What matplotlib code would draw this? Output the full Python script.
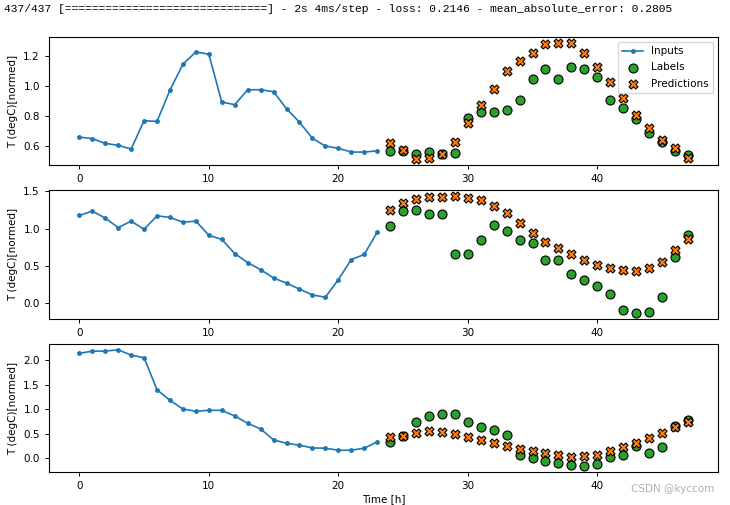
import matplotlib.pyplot as plt
import numpy as np

input_idx = np.arange(0, 24)
label_idx = np.arange(24, 48)

inputs_1 = [0.66, 0.65, 0.618, 0.605, 0.58, 0.77, 0.765, 0.975, 1.148, 1.23, 1.215, 0.895,
            0.877, 0.977, 0.977, 0.964, 0.85, 0.76, 0.652, 0.60, 0.585, 0.56, 0.56, 0.568]
labels_1 = [0.564, 0.567, 0.546, 0.56, 0.546, 0.555, 0.787, 0.829, 0.829, 0.84, 0.91, 1.05,
            1.117, 1.05, 1.13, 1.117, 1.063, 0.91, 0.854, 0.78, 0.685, 0.629, 0.566, 0.541]
preds_1 = [0.618, 0.573, 0.512, 0.519, 0.546, 0.629, 0.753, 0.878, 0.982, 1.103, 1.17, 1.225,
           1.285, 1.292, 1.292, 1.225, 1.126, 1.03, 0.924, 0.81, 0.72, 0.64, 0.586, 0.523]

inputs_2 = [1.175, 1.234, 1.14, 1.013, 1.099, 0.99, 1.17, 1.149, 1.085, 1.099, 0.91, 0.855,
            0.666, 0.545, 0.45, 0.338, 0.27, 0.189, 0.112, 0.081, 0.315, 0.585, 0.653, 0.95]
labels_2 = [1.031, 1.234, 1.247, 1.2, 1.189, 0.653, 0.666, 0.842, 1.045, 0.964, 0.842, 0.81,
            0.585, 0.585, 0.392, 0.311, 0.234, 0.126, -0.09, -0.127, -0.118, 0.085, 0.621, 0.919]
preds_2 = [1.252, 1.342, 1.396, 1.423, 1.423, 1.432, 1.405, 1.382, 1.301, 1.211, 1.076, 0.941,
           0.819, 0.738, 0.653, 0.585, 0.518, 0.477, 0.446, 0.432, 0.468, 0.558, 0.716, 0.855]

inputs_3 = [2.143, 2.19, 2.19, 2.216, 2.108, 2.053, 1.4, 1.183, 1.006, 0.959, 0.979, 0.979,
            0.863, 0.714, 0.598, 0.373, 0.306, 0.265, 0.21, 0.204, 0.163, 0.163, 0.204, 0.333]
labels_3 = [0.327, 0.455, 0.741, 0.863, 0.898, 0.898, 0.741, 0.639, 0.571, 0.476, 0.074, 0.0,
            -0.061, -0.096, -0.14, -0.167, -0.122, 0.02, 0.061, 0.257, 0.108, 0.224, 0.659, 0.788]
preds_3 = [0.429, 0.455, 0.51, 0.557, 0.531, 0.49, 0.435, 0.367, 0.306, 0.245, 0.184, 0.143,
           0.108, 0.067, 0.027, 0.047, 0.067, 0.149, 0.231, 0.312, 0.414, 0.516, 0.639, 0.741]

all_inputs = [inputs_1, inputs_2, inputs_3]
all_labels = [labels_1, labels_2, labels_3]
all_preds = [preds_1, preds_2, preds_3]

fs = 7.5
fig, axes = plt.subplots(3, 1, figsize=(7.3, 5.05), dpi=100)
plt.subplots_adjust(left=0.067, right=0.984, top=0.927, bottom=0.065, hspace=0.198)

for n, ax in enumerate(axes):
    ax.plot(input_idx, all_inputs[n], label='Inputs', marker='.', markersize=5,
            linewidth=1.2, zorder=-10)
    ax.scatter(label_idx, all_labels[n], edgecolors='k', linewidths=0.8, label='Labels',
               c='#2ca02c', s=42)
    ax.scatter(label_idx, all_preds[n], marker='X', edgecolors='k', linewidths=0.8,
               label='Predictions', c='#ff7f0e', s=42)
    ax.set_ylabel('T (degC)[normed]', fontsize=fs)
    ax.tick_params(labelsize=fs, length=3, width=0.7)
    for sp in ax.spines.values():
        sp.set_linewidth(0.8)
    if n == 0:
        ax.legend(fontsize=fs, loc='upper right', labelspacing=0.6)

axes[-1].set_xlabel('Time [h]', fontsize=fs, labelpad=2)

# console line captured above the figure
fig.text(0.006, 0.982,
         '437/437 [==============================] - 2s 4ms/step - loss: 0.2146 - mean_absolute_error: 0.2805',
         family='Liberation Mono', fontsize=8.15, va='center', ha='left')
fig.text(0.978, 0.031, 'CSDN @kyccom', fontsize=7.5, color='#b0b0b0',
         ha='right', va='center')

plt.savefig('out.png')
